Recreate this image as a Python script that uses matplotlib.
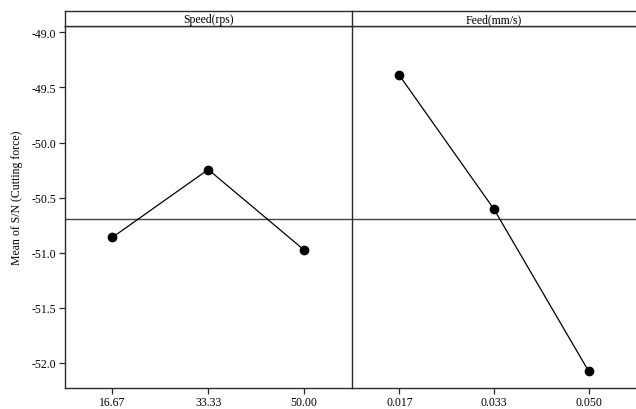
import matplotlib.pyplot as plt

# --- data ---
speed_levels = ["16.67", "33.33", "50.00"]
speed_sn = [-50.86, -50.245, -50.975]
feed_levels = ["0.017", "0.033", "0.050"]
feed_sn = [-49.39, -50.605, -52.075]
grand_mean = -50.69
y_ticks = [-49.0, -49.5, -50.0, -50.5, -51.0, -51.5, -52.0]

plt.rcParams['font.family'] = ['Liberation Serif', 'DejaVu Serif']

fig = plt.figure(figsize=(6.36, 4.10), dpi=100)

left, mid, right = 64.5 / 636, 352 / 636, 1.0
bottom, top, strip_top = 1 - 389 / 410, 1 - 27 / 410, 1 - 12 / 410
line_col = "#2a2a2a"

panels = [("Speed(rps)", speed_levels, speed_sn, left, mid),
          ("Feed(mm/s)", feed_levels, feed_sn, mid, right)]

for i, (title, levels, vals, x0, x1) in enumerate(panels):
    ax = fig.add_axes([x0, bottom, x1 - x0, top - bottom])
    ax.plot(range(len(levels)), vals, color="black", lw=0.9,
            marker="o", ms=6, mfc="black", mec="black", zorder=3)
    ax.axhline(grand_mean, color="#444444", lw=1.0, zorder=2)
    ax.set_xlim(-0.5, len(levels) - 0.5)
    ax.set_ylim(-52.227, -48.943)
    ax.set_xticks(range(len(levels)))
    ax.set_xticklabels(levels, fontsize=8.5)
    ax.set_yticks(y_ticks)
    ax.set_yticklabels([f"{v:.1f}" for v in y_ticks], fontsize=8.5)
    ax.tick_params(direction="out", length=4, width=0.9, color=line_col, pad=2)
    for s in ax.spines.values():
        s.set_color(line_col)
        s.set_linewidth(1.0)
    ax.spines["right"].set_visible(False)
    if i == 0:
        ax.set_ylabel("Mean of S/N (Cutting force)", fontsize=8.5)
        ax.yaxis.set_label_coords(-0.145, 0.528)
    else:
        ax.tick_params(axis="y", left=False, labelleft=False)

    # header strip
    sx = fig.add_axes([x0, top, x1 - x0, strip_top - top])
    sx.set_xticks([])
    sx.set_yticks([])
    for s in sx.spines.values():
        s.set_color(line_col)
        s.set_linewidth(1.0)
    sx.spines["right"].set_visible(False)
    sx.text(0.5, 0.45, title, ha="center", va="center", fontsize=8.5,
            transform=sx.transAxes)

fig.savefig("out.png", dpi=100)
